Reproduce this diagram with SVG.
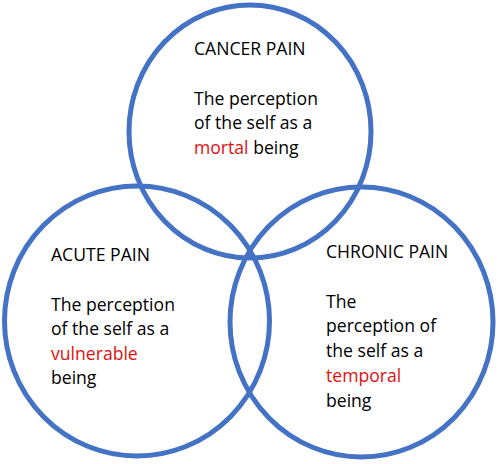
<svg xmlns="http://www.w3.org/2000/svg" width="500" height="464" viewBox="0 0 500 464">
<style>
.ring{fill:none;stroke:#4472C4;stroke-width:5}
.t{font-family:"Open Sans","Noto Sans","Liberation Sans",sans-serif;font-size:17.6px;fill:#000}
.r{fill:#E01010}
</style>
<rect width="500" height="464" fill="#fff"/>
<g id="cancer">
<ellipse class="ring" cx="250" cy="131.5" rx="121" ry="126.5"/>
<text class="t" x="194" y="55">CANCER PAIN</text>
<text class="t" x="194" y="105">The perception</text>
<text class="t" x="194" y="129">of the self as a</text>
<text class="t" x="194" y="154"><tspan class="r">mortal</tspan> being</text>
</g>
<g id="acute">
<ellipse class="ring" cx="137" cy="321" rx="132.5" ry="135"/>
<text class="t" x="51" y="261">ACUTE PAIN</text>
<text class="t" x="51" y="311">The perception</text>
<text class="t" x="51" y="335">of the self as a</text>
<text class="t r" x="51" y="360">vulnerable</text>
<text class="t" x="51" y="384">being</text>
</g>
<g id="chronic">
<ellipse class="ring" cx="361.5" cy="322" rx="131.5" ry="135"/>
<text class="t" x="326" y="258">CHRONIC PAIN</text>
<text class="t" x="326" y="308">The</text>
<text class="t" x="326" y="332">perception of</text>
<text class="t" x="326" y="357">the self as a</text>
<text class="t r" x="326" y="382">temporal</text>
<text class="t" x="326" y="407">being</text>
</g>
<g id="connectors"/>
</svg>
